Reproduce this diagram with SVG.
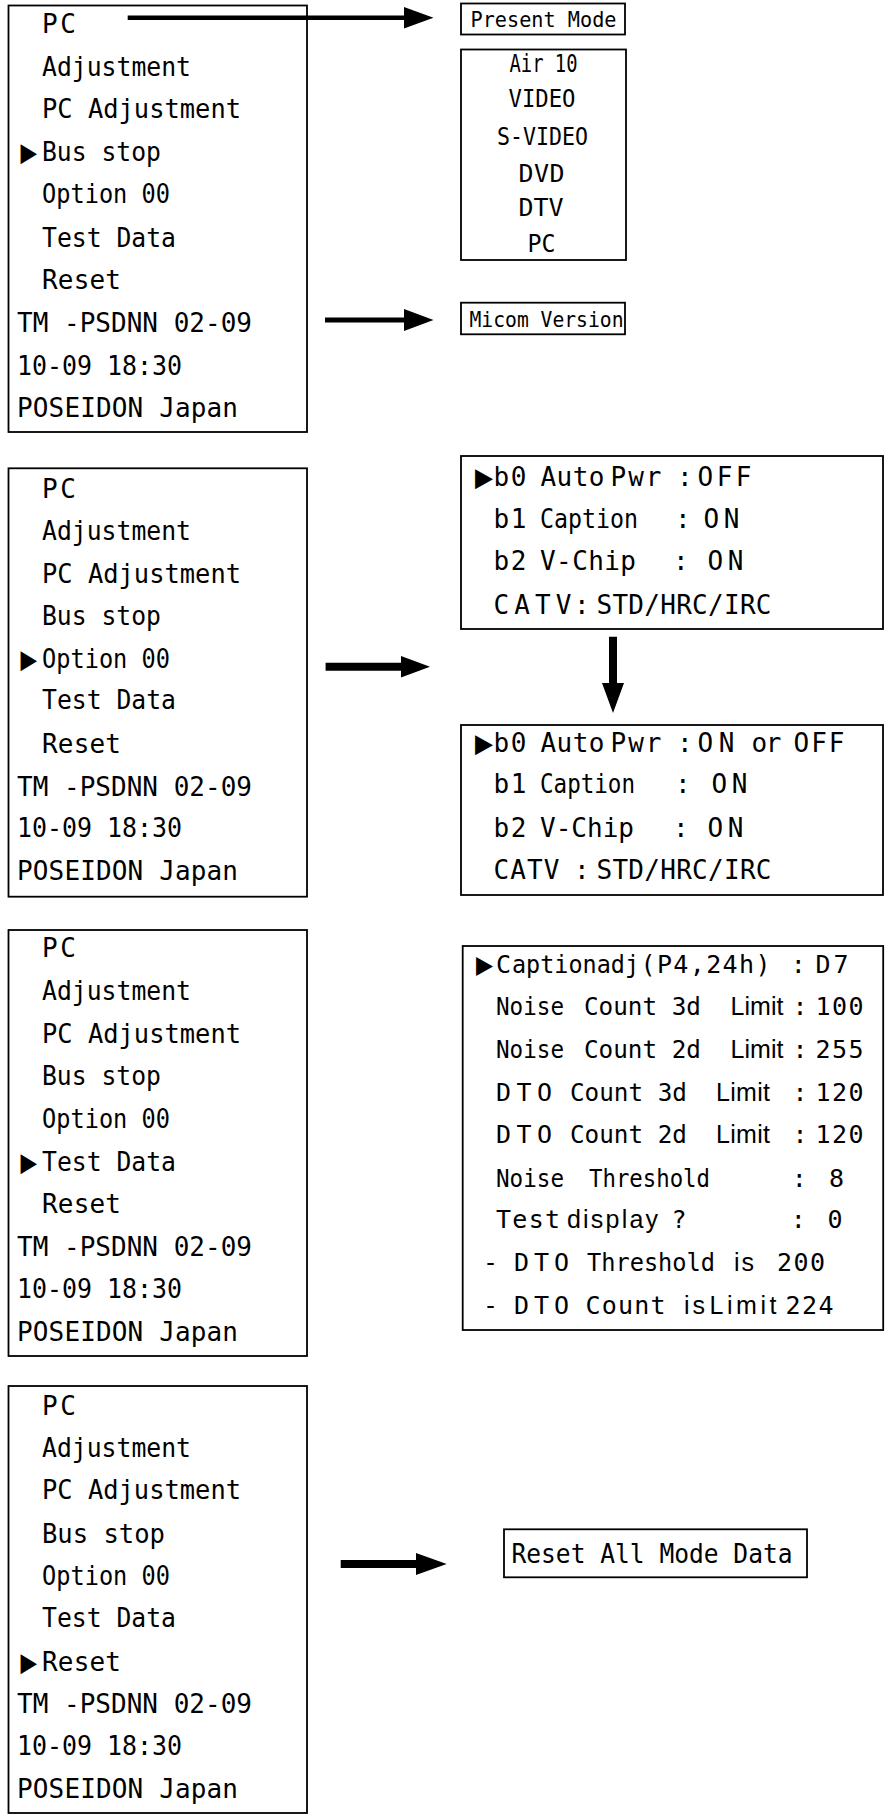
<svg xmlns="http://www.w3.org/2000/svg" width="885" height="1815" viewBox="0 0 885 1815">
<style>
text{font-family:"DejaVu Sans Mono","Liberation Mono",monospace;fill:#000}
.m{font-size:26px}
.s{font-size:25px}
.w{word-spacing:-11px}
.n{word-spacing:0}
.p{font-family:"Liberation Sans","DejaVu Sans",sans-serif}
.t{font-family:"DejaVu Sans","Liberation Sans",sans-serif}
.box{fill:#fff;stroke:#000;stroke-width:1.8}
.arr{fill:#000;stroke:none}
</style>
<rect width="885" height="1815" fill="#fff"/>

<g id="menu1">
<rect class="box" x="8.5" y="5.5" width="298.5" height="426.5"/>
<text class="m" x="42" y="33" textLength="34">PC</text>
<text class="m" x="42" y="75.5" textLength="149" lengthAdjust="spacingAndGlyphs">Adjustment</text>
<text class="m" x="42" y="118" textLength="199" lengthAdjust="spacingAndGlyphs">PC Adjustment</text>
<text class="m" y="161"><tspan class="t" x="20.5" textLength="16.5" lengthAdjust="spacingAndGlyphs">▶</tspan><tspan x="42" textLength="119" lengthAdjust="spacingAndGlyphs">Bus stop</tspan></text>
<text class="m" x="42" y="203" textLength="128" lengthAdjust="spacingAndGlyphs">Option 00</text>
<text class="m" x="42" y="246.5" textLength="134" lengthAdjust="spacingAndGlyphs">Test Data</text>
<text class="m" x="42" y="289" textLength="79">Reset</text>
<text class="m" x="17" y="332" textLength="235">TM -PSDNN 02-09</text>
<text class="m" x="17" y="375" textLength="165" lengthAdjust="spacingAndGlyphs">10-09 18:30</text>
<text class="m" x="17" y="417" textLength="221">POSEIDON Japan</text>
</g>

<g id="present-mode">
<rect class="box" x="461" y="3.5" width="164" height="31"/>
<text x="470.5" y="26.7" font-size="20.5" textLength="146" lengthAdjust="spacingAndGlyphs">Present Mode</text>
</g>

<g id="mode-list">
<rect class="box" x="461" y="49.5" width="165" height="210.5"/>
<text class="s" x="509.5" y="71.7" textLength="68" lengthAdjust="spacingAndGlyphs">Air 10</text>
<text class="s" x="508.5" y="106.7" textLength="67" lengthAdjust="spacingAndGlyphs">VIDEO</text>
<text class="s" x="497" y="145" textLength="91" lengthAdjust="spacingAndGlyphs">S-VIDEO</text>
<text class="s" x="518.5" y="181.7" textLength="46">DVD</text>
<text class="s" x="518.5" y="216" textLength="45">DTV</text>
<text class="s" x="527.5" y="251.7" textLength="28" lengthAdjust="spacingAndGlyphs">PC</text>
</g>

<g id="micom-version">
<rect class="box" x="461" y="302.7" width="164" height="31.6"/>
<text x="469.5" y="326.7" font-size="21" textLength="154" lengthAdjust="spacingAndGlyphs">Micom Version</text>
</g>

<g id="menu2">
<rect class="box" x="8.5" y="468.3" width="298.5" height="428.4"/>
<text class="m" x="42" y="498.3" textLength="34">PC</text>
<text class="m" x="42" y="540" textLength="149" lengthAdjust="spacingAndGlyphs">Adjustment</text>
<text class="m" x="42" y="582.7" textLength="199" lengthAdjust="spacingAndGlyphs">PC Adjustment</text>
<text class="m" x="42" y="625" textLength="119" lengthAdjust="spacingAndGlyphs">Bus stop</text>
<text class="m" y="667.7"><tspan class="t" x="20.5" textLength="16.5" lengthAdjust="spacingAndGlyphs">▶</tspan><tspan x="42" textLength="128" lengthAdjust="spacingAndGlyphs">Option 00</tspan></text>
<text class="m" x="42" y="709.3" textLength="134" lengthAdjust="spacingAndGlyphs">Test Data</text>
<text class="m" x="42" y="753.3" textLength="79">Reset</text>
<text class="m" x="17" y="795.7" textLength="235">TM -PSDNN 02-09</text>
<text class="m" x="17" y="837.3" textLength="165" lengthAdjust="spacingAndGlyphs">10-09 18:30</text>
<text class="m" x="17" y="880" textLength="221">POSEIDON Japan</text>
</g>

<g id="option-before">
<rect class="box" x="461" y="456" width="422" height="173"/>
<text class="m w" y="485.7"><tspan class="t" x="475" textLength="18" lengthAdjust="spacingAndGlyphs">▶</tspan><tspan x="493.5" textLength="33">b0</tspan> <tspan x="540.5" textLength="64">Auto</tspan> <tspan x="610.5" textLength="51">Pwr</tspan> <tspan x="677">:</tspan><tspan x="697.5" textLength="54">OFF</tspan></text>
<text class="m w" y="528.3"><tspan x="493.5" textLength="33">b1</tspan> <tspan x="540" textLength="98" lengthAdjust="spacingAndGlyphs">Caption</tspan> <tspan x="675">:</tspan> <tspan x="703.5" textLength="36">ON</tspan></text>
<text class="m w" y="570"><tspan x="493.5" textLength="33">b2</tspan> <tspan x="540" textLength="96">V-Chip</tspan> <tspan x="673">:</tspan> <tspan x="707.5" textLength="36">ON</tspan></text>
<text class="m w" y="614"><tspan x="493.5" textLength="78">CATV</tspan><tspan x="574">:</tspan><tspan x="596.5" textLength="175">STD/HRC/IRC</tspan></text>
</g>

<g id="option-after">
<rect class="box" x="461" y="725" width="422" height="170"/>
<text class="m w" y="751.7"><tspan class="t" x="475" textLength="18" lengthAdjust="spacingAndGlyphs">▶</tspan><tspan x="493.5" textLength="33">b0</tspan> <tspan x="540.5" textLength="64">Auto</tspan> <tspan x="610.5" textLength="51">Pwr</tspan> <tspan x="677">:</tspan><tspan x="697.5" textLength="37">ON</tspan> <tspan x="751.5" textLength="30">or</tspan> <tspan x="793.5" textLength="51">OFF</tspan></text>
<text class="m w" y="793"><tspan x="493.5" textLength="33">b1</tspan> <tspan x="540" textLength="95" lengthAdjust="spacingAndGlyphs">Caption</tspan> <tspan x="675">:</tspan> <tspan x="711.5" textLength="36">ON</tspan></text>
<text class="m w" y="837"><tspan x="493.5" textLength="33">b2</tspan> <tspan x="540" textLength="94" lengthAdjust="spacingAndGlyphs">V-Chip</tspan> <tspan x="673">:</tspan> <tspan x="707.5" textLength="36">ON</tspan></text>
<text class="m w" y="879"><tspan x="493.5" textLength="66">CATV</tspan> <tspan x="574">:</tspan><tspan x="596.5" textLength="175">STD/HRC/IRC</tspan></text>
</g>

<g id="menu3">
<rect class="box" x="8.5" y="930" width="298.5" height="426"/>
<text class="m" x="42" y="957.3" textLength="34">PC</text>
<text class="m" x="42" y="1000" textLength="149" lengthAdjust="spacingAndGlyphs">Adjustment</text>
<text class="m" x="42" y="1043.3" textLength="199" lengthAdjust="spacingAndGlyphs">PC Adjustment</text>
<text class="m" x="42" y="1085" textLength="119" lengthAdjust="spacingAndGlyphs">Bus stop</text>
<text class="m" x="42" y="1128.3" textLength="128" lengthAdjust="spacingAndGlyphs">Option 00</text>
<text class="m" y="1171"><tspan class="t" x="20.5" textLength="16.5" lengthAdjust="spacingAndGlyphs">▶</tspan><tspan x="42" textLength="134" lengthAdjust="spacingAndGlyphs">Test Data</tspan></text>
<text class="m" x="42" y="1213.3" textLength="79">Reset</text>
<text class="m" x="17" y="1256" textLength="235">TM -PSDNN 02-09</text>
<text class="m" x="17" y="1298.3" textLength="165" lengthAdjust="spacingAndGlyphs">10-09 18:30</text>
<text class="m" x="17" y="1340.7" textLength="221">POSEIDON Japan</text>
</g>

<g id="test-data">
<rect class="box" x="462.7" y="946" width="420.5" height="384"/>
<text class="s w" y="973"><tspan class="t" x="476" textLength="17" lengthAdjust="spacingAndGlyphs">▶</tspan><tspan x="496">C</tspan><tspan x="512" textLength="127" lengthAdjust="spacingAndGlyphs">aptionadj</tspan><tspan x="640.5" textLength="130">(P4,24h)</tspan> <tspan x="790.8">:</tspan><tspan x="815.5" textLength="33">D7</tspan></text>
<text class="s w" y="1015"><tspan x="496" textLength="68" lengthAdjust="spacingAndGlyphs">Noise</tspan> <tspan class="n" x="584" textLength="117" lengthAdjust="spacingAndGlyphs">Count 3d</tspan> <tspan class="p" x="730.5" textLength="53">Limit</tspan> <tspan x="792.5">:</tspan><tspan x="815.5" textLength="48">100</tspan></text>
<text class="s w" y="1058"><tspan x="496" textLength="68" lengthAdjust="spacingAndGlyphs">Noise</tspan> <tspan class="n" x="584" textLength="117" lengthAdjust="spacingAndGlyphs">Count 2d</tspan> <tspan class="p" x="730.5" textLength="53">Limit</tspan> <tspan x="792.5">:</tspan><tspan x="815.5" textLength="48">255</tspan></text>
<text class="s w" y="1101"><tspan x="496" textLength="56">DTO</tspan> <tspan class="n" x="570" textLength="117" lengthAdjust="spacingAndGlyphs">Count 3d</tspan> <tspan class="p" x="716" textLength="54">Limit</tspan> <tspan x="792.5">:</tspan><tspan x="815.5" textLength="48">120</tspan></text>
<text class="s w" y="1143"><tspan x="496" textLength="56">DTO</tspan> <tspan class="n" x="570" textLength="117" lengthAdjust="spacingAndGlyphs">Count 2d</tspan> <tspan class="p" x="716" textLength="54">Limit</tspan> <tspan x="792.5">:</tspan><tspan x="815.5" textLength="48">120</tspan></text>
<text class="s w" y="1187"><tspan x="496" textLength="68" lengthAdjust="spacingAndGlyphs">Noise</tspan> <tspan x="589" textLength="121" lengthAdjust="spacingAndGlyphs">Threshold</tspan> <tspan x="791.8">:</tspan> <tspan x="829">8</tspan></text>
<text class="s w" y="1228"><tspan x="496" textLength="64">Test</tspan> <tspan class="p" x="567" textLength="91">display</tspan> <tspan x="671.5">?</tspan> <tspan x="790.8">:</tspan> <tspan x="827.5">0</tspan></text>
<text class="s w" y="1271"><tspan x="483">-</tspan> <tspan x="514" textLength="55">DTO</tspan> <tspan x="587" textLength="128" lengthAdjust="spacingAndGlyphs">Threshold</tspan> <tspan class="p" x="734" textLength="20">is</tspan> <tspan x="777" textLength="48">200</tspan></text>
<text class="s w" y="1314"><tspan x="483">-</tspan> <tspan x="514" textLength="55">DTO</tspan> <tspan x="585.5" textLength="80">Count</tspan> <tspan class="p" x="684" textLength="21">is</tspan> <tspan class="p" x="709.5" textLength="67">Limit</tspan> <tspan x="785.5" textLength="48">224</tspan></text>
</g>

<g id="menu4">
<rect class="box" x="8.5" y="1386" width="298.5" height="427"/>
<text class="m" x="42" y="1415" textLength="34">PC</text>
<text class="m" x="42" y="1457.3" textLength="149" lengthAdjust="spacingAndGlyphs">Adjustment</text>
<text class="m" x="42" y="1499.3" textLength="199" lengthAdjust="spacingAndGlyphs">PC Adjustment</text>
<text class="m" x="42" y="1542.7" textLength="123" lengthAdjust="spacingAndGlyphs">Bus stop</text>
<text class="m" x="42" y="1585" textLength="128" lengthAdjust="spacingAndGlyphs">Option 00</text>
<text class="m" x="42" y="1626.7" textLength="134" lengthAdjust="spacingAndGlyphs">Test Data</text>
<text class="m" y="1670.7"><tspan class="t" x="20.5" textLength="16.5" lengthAdjust="spacingAndGlyphs">▶</tspan><tspan x="42" textLength="79">Reset</tspan></text>
<text class="m" x="17" y="1712.7" textLength="235">TM -PSDNN 02-09</text>
<text class="m" x="17" y="1755" textLength="165" lengthAdjust="spacingAndGlyphs">10-09 18:30</text>
<text class="m" x="17" y="1798.3" textLength="221">POSEIDON Japan</text>
</g>

<g id="reset-all">
<rect class="box" x="504" y="1529.3" width="303" height="48"/>
<text x="511.5" y="1563.3" font-size="27" textLength="281" lengthAdjust="spacingAndGlyphs">Reset All Mode Data</text>
</g>

<g id="connectors">
<path class="arr" d="M127.7,15.5 H404 V7 L433.5,17.7 L404,28.5 V20 H127.7 Z"/>
<path class="arr" d="M325,317.5 H404 V309 L433.5,320 L404,331 V322.5 H325 Z"/>
<path class="arr" d="M325.6,662.7 H401 V656 L430,666.7 L401,677.5 V670.7 H325.6 Z"/>
<path class="arr" d="M609,636.7 H617 V683 H624 L613,713 L602,683 H609 Z"/>
<path class="arr" d="M340.7,1560 H416 V1553 L446.7,1564 L416,1575 V1568 H340.7 Z"/>
</g>
</svg>
